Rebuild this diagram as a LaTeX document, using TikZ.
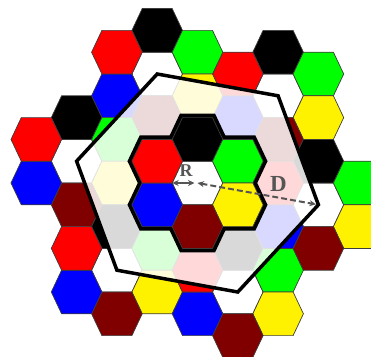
\documentclass[tikz,border=0pt]{standalone}
\usepackage{fontspec}
\setmainfont{Liberation Serif}
\usetikzlibrary{arrows.meta,calc}
\definecolor{maroon}{HTML}{800000}
\definecolor{rim}{HTML}{3C3C3C}
\definecolor{slate}{HTML}{555555}
\tikzset{
  cell/.pic={\path[pic actions] (-25.3pt,0pt) -- (-15pt,21.8pt) -- (15pt,21.8pt) -- (25.3pt,0pt) -- (15pt,-21.8pt) -- (-15pt,-21.8pt) -- cycle;}}

\begin{document}
\begin{tikzpicture}[
  x={(40.3pt,21.8pt)},y={(0pt,43.6pt)},
  hexrim/.style={draw=rim,line width=0.7pt},
  hub/.style={draw=black,line width=8pt,line join=miter},
  reuse/.style={fill=white,fill opacity=0.85,draw=black,draw opacity=1,line width=3.5pt,line join=miter},
  gauge/.style={{Stealth[length=6.5pt,width=6pt]}-{Stealth[length=6.5pt,width=6pt]},line width=2pt,slate},
  tag/.style={text=slate,inner sep=0pt,font=\bfseries}]
  \useasboundingbox (-197.5pt,-173pt) rectangle (173.5pt,183pt);
  % the six co-channel clusters
  \foreach \ci/\cj [count=\n] in {2/1,-1/3,-3/2,-2/-1,1/-3,3/-2}{
    \coordinate (co\n) at (\ci,\cj);
    \foreach \di/\dj/\col in {0/0/white,0/1/black,1/0/green,1/-1/yellow,0/-1/maroon,-1/0/blue,-1/1/red}
      \pic[fill=\col,hexrim] at ($(co\n)+(\di,\dj)$) {cell};
  }
  \path[reuse] (co1) -- (co2) -- (co3) -- (co4) -- (co5) -- (co6) -- cycle;
  % middle cluster
  \coordinate (cen) at (0,0);
  \coordinate (cenW) at ($(cen)+(-25.3pt,0pt)$);
  \foreach \di/\dj in {0/1,1/0,1/-1,0/-1,-1/0,-1/1}
    \pic[hub] at (\di,\dj) {cell};
  \foreach \di/\dj/\col in {0/0/white,0/1/black,1/0/green,1/-1/yellow,0/-1/maroon,-1/0/blue,-1/1/red}
    \pic[fill=\col,hexrim] at (\di,\dj) {cell};
  \draw[gauge,shorten >=3pt] (cenW) -- node[tag,above=6pt,pos=0.55,font=\bfseries\fontsize{18}{18}\selectfont] (rtag) {R} (cen);
  \draw[gauge,dash pattern=on 6pt off 3pt,shorten >=2.5pt] (cen) -- node[tag,above=5pt,pos=0.67,font=\bfseries\fontsize{23}{23}\selectfont] (dtag) {D} (co6);
\end{tikzpicture}
\end{document}
